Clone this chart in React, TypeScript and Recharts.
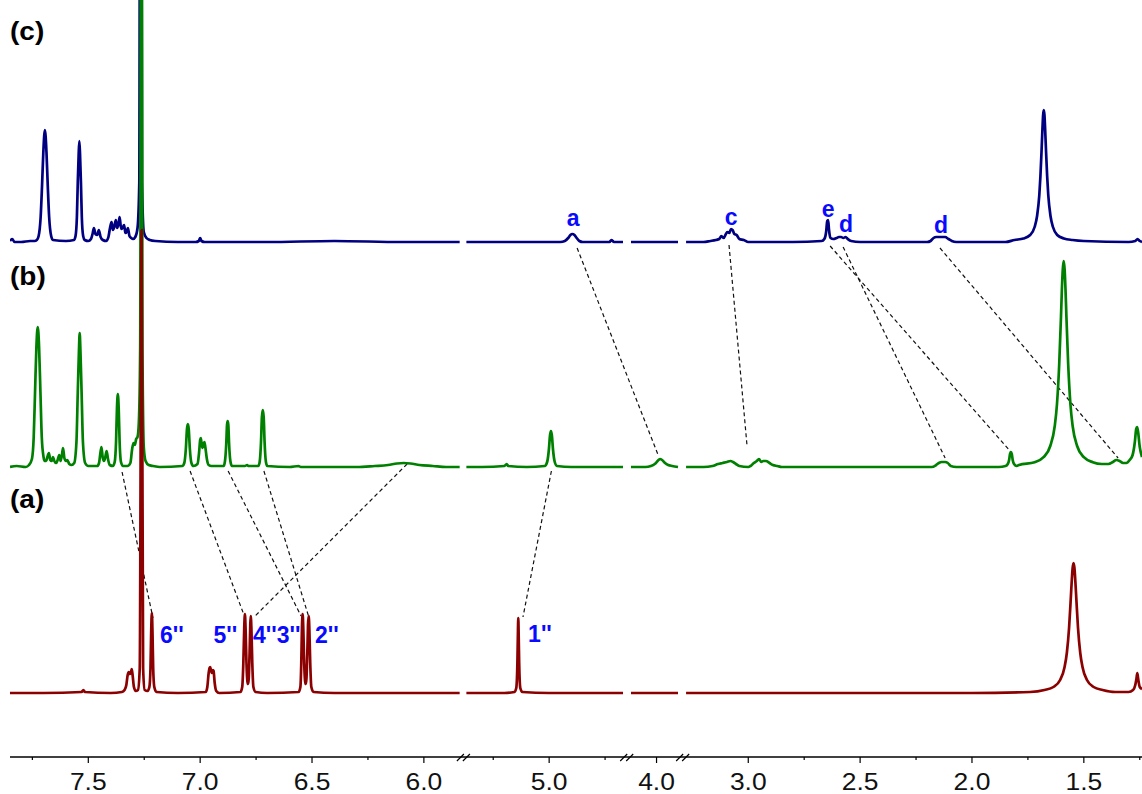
import React from "react";
import { LineChart, Line, XAxis, YAxis, ReferenceLine, ReferenceDot } from "recharts";

type Pt = [number, number];

// kept pieces of the broken ppm axis (high -> low)
const axisPieces: Pt[] = [[7.85, 5.83], [5.39, 4.66], [4.14, 3.89], [3.3, 1.24]];

const majorTicks = [7.5, 7.0, 6.5, 6.0, 5.0, 4.0, 3.0, 2.5, 2.0, 1.5];
const minorTicks = [7.75, 7.25, 6.75, 6.25, 5.25, 4.75, 2.75, 2.25, 1.75, 1.25];

// spectrum (c) — [ppm, intensity], one list per axis piece
const specC: Pt[][] = [
  [
    [7.85, 1], [7.84, 3], [7.83, 0], [7.8, 0], [7.76, 1], [7.74, 1], [7.73, 2], [7.722, 6], [7.713, 25],
    [7.707, 55], [7.701, 90], [7.694, 112], [7.687, 90], [7.681, 55], [7.675, 25], [7.666, 6], [7.658, 2],
    [7.6, 1], [7.564, 2], [7.557, 6], [7.551, 25], [7.547, 60], [7.543, 88], [7.54, 101], [7.537, 88],
    [7.533, 60], [7.529, 25], [7.523, 6], [7.516, 2], [7.5, 1], [7.488, 3], [7.48, 9], [7.475, 14],
    [7.468, 8], [7.46, 7], [7.453, 12], [7.445, 5], [7.435, 2], [7.42, 1], [7.41, 5], [7.403, 14],
    [7.396, 20], [7.39, 12], [7.384, 15], [7.377, 22], [7.371, 14], [7.365, 18], [7.36, 25], [7.353, 13],
    [7.347, 14], [7.34, 17], [7.334, 9], [7.329, 10], [7.323, 14], [7.316, 6], [7.308, 4], [7.3, 3],
    [7.29, 5], [7.28, 14], [7.272, 60], [7.266, 900], [7.26, 60], [7.252, 10], [7.24, 4], [7.225, 2],
    [7.2, 1], [7.1, 0], [7.02, 0], [7.006, 1], [7.0, 4], [6.994, 1], [6.98, 0], [6.7, 0], [6.4, 1],
    [6.1, 0], [5.84, 0],
  ],
  [
    [5.37, 0], [5.1, 0], [4.95, 0], [4.93, 1], [4.915, 4], [4.905, 7], [4.896, 8], [4.887, 7], [4.877, 4],
    [4.865, 1], [4.85, 0], [4.73, 0], [4.722, 2], [4.71, 0], [4.67, 0],
  ],
  [[4.114, 0], [4.0, 0], [3.904, 0]],
  [
    [3.278, 0], [3.2, 0], [3.17, 1], [3.145, 2], [3.13, 3], [3.12, 6], [3.11, 4], [3.1, 8], [3.094, 10],
    [3.085, 9], [3.077, 13], [3.07, 12], [3.062, 8], [3.052, 7], [3.04, 3], [3.02, 2], [3.0, 0], [2.8, 0],
    [2.672, 1], [2.66, 3], [2.652, 10], [2.647, 21], [2.643, 22], [2.639, 12], [2.632, 4], [2.62, 3],
    [2.605, 4], [2.595, 5], [2.585, 5], [2.575, 4], [2.565, 5], [2.555, 3], [2.54, 1], [2.5, 0], [2.2, 0],
    [2.185, 1], [2.172, 4], [2.16, 5], [2.14, 5], [2.12, 5], [2.105, 3], [2.09, 1], [2.07, 0], [1.85, 0],
    [1.81, 2], [1.77, 3.5], [1.74, 7], [1.72, 15], [1.709, 26], [1.699, 47], [1.694, 66], [1.689, 91],
    [1.685, 113], [1.682, 127], [1.679, 132], [1.676, 127], [1.673, 113], [1.669, 91], [1.664, 66],
    [1.659, 47], [1.649, 26], [1.638, 15], [1.619, 7], [1.589, 3.5], [1.55, 2], [1.5, 1], [1.3, 0],
    [1.27, 1], [1.26, 3], [1.25, 1], [1.24, 0],
  ],
];

// spectrum (b)
const specB: Pt[][] = [
  [
    [7.85, 0], [7.82, 1], [7.78, 0], [7.765, 2], [7.752, 8], [7.744, 30], [7.738, 75], [7.732, 120],
    [7.726, 140], [7.72, 120], [7.714, 75], [7.708, 30], [7.7, 10], [7.695, 6], [7.688, 6], [7.683, 10],
    [7.676, 14], [7.67, 7], [7.664, 6], [7.658, 10], [7.652, 6], [7.644, 4], [7.637, 7], [7.63, 12],
    [7.624, 6], [7.618, 12], [7.613, 19], [7.607, 9], [7.6, 6], [7.594, 7], [7.585, 3], [7.575, 2],
    [7.563, 4], [7.553, 25], [7.547, 75], [7.542, 115], [7.5385, 134], [7.535, 115], [7.53, 75],
    [7.524, 25], [7.514, 4], [7.5, 1], [7.46, 1], [7.452, 4], [7.446, 14], [7.441, 20], [7.436, 10],
    [7.43, 6], [7.424, 10], [7.418, 16], [7.412, 8], [7.404, 2], [7.39, 1], [7.382, 5], [7.376, 25],
    [7.372, 58], [7.368, 73], [7.364, 58], [7.36, 25], [7.354, 5], [7.345, 1], [7.325, 1], [7.312, 4],
    [7.304, 18], [7.298, 24], [7.292, 22], [7.286, 28], [7.28, 30], [7.274, 45], [7.268, 120],
    [7.263, 900], [7.258, 120], [7.252, 20], [7.244, 6], [7.23, 2], [7.21, 1], [7.18, 0], [7.08, 1],
    [7.071, 4], [7.064, 18], [7.059, 38], [7.055, 43], [7.051, 38], [7.046, 18], [7.039, 4], [7.03, 1],
    [7.012, 3], [7.005, 14], [7.0, 27], [6.997, 29], [6.993, 22], [6.989, 19], [6.985, 23], [6.981, 25],
    [6.977, 20], [6.97, 8], [6.962, 2], [6.95, 1], [6.895, 1], [6.889, 6], [6.883, 25], [6.88, 42],
    [6.877, 46], [6.874, 42], [6.871, 25], [6.865, 6], [6.858, 1], [6.8, 1], [6.79, 2], [6.785, 1],
    [6.74, 1], [6.734, 5], [6.728, 25], [6.724, 50], [6.72, 57], [6.716, 50], [6.712, 25], [6.706, 5],
    [6.7, 1], [6.6, 0], [6.56, 1], [6.55, 0], [6.3, 0], [6.22, 1], [6.16, 2], [6.12, 3.5], [6.09, 4],
    [6.06, 3.5], [6.02, 2], [5.96, 1], [5.9, 0], [5.84, 0],
  ],
  [
    [5.37, 0], [5.3, 0], [5.2, 1], [5.19, 3], [5.183, 1], [5.1, 0], [5.02, 1], [5.009, 5], [5.001, 18],
    [4.996, 32], [4.992, 36], [4.988, 32], [4.983, 18], [4.975, 5], [4.965, 1], [4.9, 0], [4.67, 0],
  ],
  [
    [4.114, 0], [4.05, 0], [4.025, 1], [4.008, 3], [3.995, 6], [3.985, 8], [3.975, 7], [3.962, 4],
    [3.948, 2], [3.93, 1], [3.904, 0],
  ],
  [
    [3.278, 0], [3.2, 0], [3.16, 1], [3.135, 3], [3.115, 4], [3.095, 5], [3.08, 6], [3.068, 5],
    [3.055, 3], [3.04, 1], [3.0, 0], [2.99, 1], [2.975, 4], [2.962, 6], [2.952, 8], [2.942, 5],
    [2.933, 6], [2.921, 6], [2.905, 4], [2.89, 2], [2.87, 1], [2.85, 0], [2.4, 0], [2.18, 0], [2.16, 2],
    [2.148, 4], [2.135, 5], [2.12, 5], [2.108, 4], [2.095, 1], [2.07, 0], [1.88, 0], [1.85, 1],
    [1.84, 3], [1.834, 7], [1.83, 13], [1.826, 15], [1.822, 13], [1.818, 7], [1.812, 3], [1.8, 1],
    [1.79, 2], [1.72, 4.8], [1.68, 9.8], [1.65, 21], [1.63, 41], [1.62, 63], [1.61, 103], [1.602, 151],
    [1.598, 178], [1.594, 198], [1.59, 206], [1.586, 198], [1.582, 178], [1.578, 151], [1.57, 103],
    [1.56, 63], [1.55, 41], [1.53, 21], [1.5, 9.8], [1.46, 4.8], [1.42, 3], [1.39, 3], [1.37, 5],
    [1.355, 7], [1.34, 6], [1.325, 4], [1.31, 4], [1.295, 7], [1.282, 12], [1.272, 25], [1.266, 38],
    [1.262, 40], [1.258, 36], [1.25, 20], [1.24, 10],
  ],
];

// spectrum (a)
const specA: Pt[][] = [
  [
    [7.85, 0], [7.7, 0], [7.53, 1], [7.522, 3], [7.515, 1], [7.4, 0], [7.35, 1], [7.338, 3], [7.33, 8],
    [7.324, 18], [7.319, 21], [7.314, 19], [7.31, 20], [7.306, 24], [7.302, 18], [7.296, 6], [7.288, 2],
    [7.278, 3], [7.27, 25], [7.262, 463], [7.255, 25], [7.248, 3], [7.235, 2], [7.227, 6], [7.222, 25],
    [7.219, 60], [7.216, 80], [7.213, 60], [7.21, 25], [7.205, 6], [7.195, 1], [7.1, 0], [6.975, 1],
    [6.968, 6], [6.962, 20], [6.958, 25], [6.955, 26], [6.951, 22], [6.947, 20], [6.943, 23], [6.94, 22],
    [6.935, 10], [6.928, 2], [6.915, 0], [6.82, 1], [6.812, 6], [6.807, 30], [6.803, 65], [6.8, 79],
    [6.797, 65], [6.793, 30], [6.789, 12], [6.786, 9], [6.783, 14], [6.779, 40], [6.776, 68],
    [6.774, 77], [6.771, 65], [6.767, 30], [6.762, 6], [6.752, 1], [6.7, 0], [6.56, 1], [6.552, 6],
    [6.548, 30], [6.545, 65], [6.542, 79], [6.539, 65], [6.535, 30], [6.531, 12], [6.528, 9],
    [6.525, 14], [6.521, 40], [6.518, 68], [6.515, 77], [6.512, 65], [6.508, 30], [6.503, 6],
    [6.493, 1], [6.4, 0], [6.0, 0], [5.84, 0],
  ],
  [
    [5.37, 0], [5.2, 0], [5.155, 1], [5.147, 5], [5.142, 30], [5.14, 55], [5.138, 75], [5.136, 55],
    [5.134, 30], [5.129, 5], [5.12, 1], [5.0, 0], [4.67, 0],
  ],
  [[4.114, 0], [3.904, 0]],
  [
    [3.278, 0], [2.5, 0], [2.0, 0], [1.74, 1], [1.676, 3], [1.636, 6], [1.606, 13], [1.586, 26],
    [1.576, 40], [1.566, 65], [1.558, 96], [1.554, 112], [1.55, 125], [1.546, 130], [1.542, 125],
    [1.538, 112], [1.534, 96], [1.526, 65], [1.516, 40], [1.506, 26], [1.486, 13], [1.456, 6],
    [1.416, 3], [1.36, 1], [1.3, 1], [1.28, 3], [1.27, 8], [1.265, 14], [1.261, 20], [1.257, 14],
    [1.25, 6], [1.24, 4],
  ],
];

// vertical offset of each trace baseline (y units)
const baseOf: Record<string, number> = { a: 64, b: 290, c: 515 };

// dashed assignment lines: [ppm, trace, dy] -> [ppm, trace, dy]
const links: [number, string, number, number, string, number][] = [
  [4.875, "c", -6, 3.993, "b", 12],
  [3.086, "c", -3, 3.005, "b", 20],
  [2.634, "c", -4, 1.826, "b", 15],
  [2.576, "c", -5, 2.12, "b", 9],
  [2.143, "c", -6, 1.347, "b", 9],
  [7.349, "b", -5, 7.211, "a", 75],
  [7.045, "b", -4, 6.804, "a", 78],
  [6.875, "b", -4, 6.549, "a", 77],
  [6.715, "b", -4, 6.513, "a", 75],
  [6.075, "b", 3, 6.759, "a", 76],
  [4.99, "b", -4, 5.117, "a", 76],
];

// peak labels: text, ppm, trace, dy, anchor
const peakLabels: [string, number, string, number, "start" | "middle"][] = [
  ["a", 4.893, "c", 16, "middle"],
  ["c", 3.077, "c", 17, "middle"],
  ["e", 2.643, "c", 25, "middle"],
  ["d", 2.563, "c", 10, "middle"],
  ["d", 2.138, "c", 9, "middle"],
  ["6''", 7.18, "a", 50, "start"],
  ["5''", 6.94, "a", 50, "start"],
  ["4''3''", 6.764, "a", 50, "start"],
  ["2''", 6.487, "a", 50, "start"],
  ["1''", 5.094, "a", 51, "start"],
];

const panelLabels: [string, string, number][] = [
  ["(c)", "c", 202],
  ["(b)", "b", 182],
  ["(a)", "a", 185],
];

const FONT = "'Liberation Sans', Arial, Helvetica, sans-serif";
const PLOT_H = 757;

function toU(ppm: number) {
  let off = 0;
  for (const [hi, lo] of axisPieces) {
    if (ppm <= hi + 1e-9 && ppm >= lo - 1e-9) return off + (hi - ppm);
    off += hi - lo;
  }
  return off;
}

const uMax = axisPieces.reduce((s, [hi, lo]) => s + hi - lo, 0);
const breakUs: number[] = [];
axisPieces.slice(0, -1).reduce((s, [hi, lo]) => {
  breakUs.push(s + hi - lo);
  return s + hi - lo;
}, 0);

type TickInfo = { u: number; kind: "major" | "minor" | "break"; label?: string };
const tickInfo: TickInfo[] = [
  ...majorTicks.map((p) => ({ u: toU(p), kind: "major" as const, label: p.toFixed(1) })),
  ...minorTicks.map((p) => ({ u: toU(p), kind: "minor" as const })),
  ...breakUs.map((u) => ({ u, kind: "break" as const })),
].sort((a, b) => a.u - b.u);

function build(spec: Pt[][], base: number) {
  const out: { x: number; y: number | null }[] = [];
  spec.forEach((seg, i) => {
    if (i > 0) out.push({ x: toU(seg[0][0]) - 0.001, y: null });
    seg.forEach(([p, h]) => out.push({ x: toU(p), y: base + h }));
  });
  return out;
}

const dataA = build(specA, baseOf.a);
const dataB = build(specB, baseOf.b);
const dataC = build(specC, baseOf.c);

function AxisTick(props: any) {
  const { x, y, payload } = props;
  const t = tickInfo.find((k) => Math.abs(k.u - payload.value) < 1e-6);
  if (!t) return null;
  if (t.kind === "break") {
    return (
      <g stroke="#000" strokeWidth={1.2}>
        <line x1={x - 5} y1={y + 4} x2={x + 2} y2={y - 3} />
        <line x1={x + 1} y1={y + 4} x2={x + 8} y2={y - 3} />
      </g>
    );
  }
  const len = t.kind === "major" ? 6 : 3;
  return (
    <g>
      <line x1={x} y1={y} x2={x} y2={y + len} stroke="#000" strokeWidth={1.2} />
      {t.label && (
        <text
          transform={`translate(${x},${y + 33}) scale(1.15,1)`}
          textAnchor="middle"
          fontSize={23}
          fontFamily={FONT}
          fill="#111"
        >
          {t.label}
        </text>
      )}
    </g>
  );
}

export default function App() {
  return (
    <div style={{ position: "absolute", left: 0, top: 0, background: "#fff" }}>
      <LineChart width={1142} height={794} margin={{ top: 0, right: 0, bottom: 0, left: 10 }}>
        <XAxis
          type="number"
          dataKey="x"
          domain={[0, uMax]}
          ticks={tickInfo.map((t) => t.u)}
          interval={0}
          tick={AxisTick}
          tickLine={false}
          tickSize={0}
          tickMargin={0}
          axisLine={{ stroke: "#000", strokeWidth: 1.5 }}
          height={37}
          allowDataOverflow
        />
        <YAxis type="number" domain={[0, PLOT_H]} hide allowDataOverflow />
        {links.map(([p1, s1, d1, p2, s2, d2], i) => (
          <ReferenceLine
            key={"l" + i}
            segment={[
              { x: toU(p1), y: baseOf[s1] + d1 },
              { x: toU(p2), y: baseOf[s2] + d2 },
            ]}
            stroke="#111"
            strokeWidth={1.2}
            strokeDasharray="4 3"
            ifOverflow="visible"
          />
        ))}
        <Line data={dataC} dataKey="y" type="monotone" stroke="#000080" strokeWidth={2.7} dot={false} activeDot={false} isAnimationActive={false} connectNulls={false} />
        <Line data={dataB} dataKey="y" type="monotone" stroke="#008000" strokeWidth={2.7} dot={false} activeDot={false} isAnimationActive={false} connectNulls={false} />
        <Line data={dataA} dataKey="y" type="monotone" stroke="#8b0000" strokeWidth={2.7} dot={false} activeDot={false} isAnimationActive={false} connectNulls={false} />
        {peakLabels.map(([txt, p, s, dy, anchor], i) => (
          <ReferenceDot
            key={"p" + i}
            x={toU(p)}
            y={baseOf[s] + dy}
            r={0}
            ifOverflow="visible"
            shape={(sp: any) => (
              <text x={sp.cx} y={sp.cy} textAnchor={anchor} fontSize={23} fontWeight="bold" fontFamily={FONT} fill="#0a0aff">
                {txt}
              </text>
            )}
          />
        ))}
        {panelLabels.map(([txt, s, dy], i) => (
          <ReferenceDot
            key={"g" + i}
            x={0}
            y={baseOf[s] + dy}
            r={0}
            ifOverflow="visible"
            shape={(sp: any) => (
              <text
                transform={`translate(${sp.cx},${sp.cy}) scale(1.12,1)`}
                textAnchor="start"
                fontSize={25}
                fontWeight="bold"
                fontFamily={FONT}
                fill="#000"
              >
                {txt}
              </text>
            )}
          />
        ))}
      </LineChart>
    </div>
  );
}
